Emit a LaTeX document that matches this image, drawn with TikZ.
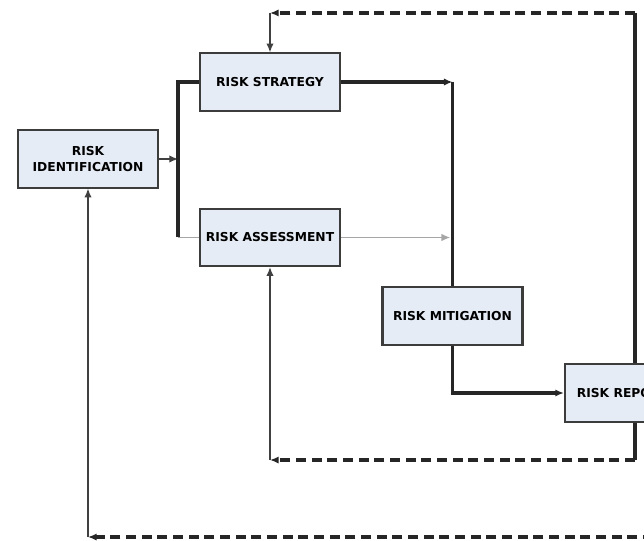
\documentclass[tikz,border=0pt]{standalone}
\usepackage{fontspec}
\setmainfont{DejaVu Sans}
\usetikzlibrary{arrows.meta}

\definecolor{boxfill}{HTML}{E6ECF5}
\definecolor{boxline}{HTML}{3C3C3C}
\tikzset{
  riskbox/.style={draw=boxline,line width=1.8pt,fill=boxfill,
    minimum width=4.2cm,minimum height=1.72cm,inner sep=0pt,align=center,
    font=\bfseries\fontsize{10.5}{13}\selectfont},
  flow/.style={line width=3pt,black!85},
  feedback/.style={line width=3pt,black!85,dash pattern=on 0.3cm off 0.17cm},
  thinflow/.style={line width=1pt,black!75},
  paleflow/.style={line width=1pt,black!35},
  tip/.style={-{Latex[length=0.26cm,width=0.22cm]}}
}

\begin{document}
\begin{tikzpicture}[x=0.03cm,y=-0.03cm]
  \clip (0,0) rectangle (644,541);
  \fill[white] (0,0) rectangle (644,541);

  % boxes
  \node[riskbox] (ident)  at (88,159)    {RISK\\IDENTIFICATION};
  \node[riskbox] (strat)  at (270,82)    {RISK STRATEGY};
  \node[riskbox] (assess) at (270,237.5) {RISK ASSESSMENT};
  \node[riskbox] (mitig)  at (452.5,316) {RISK MITIGATION};
  \node[riskbox] (report) at (635,393)   {RISK REPORTING};

  % helper points
  \coordinate (busT) at (178,82);
  \coordinate (busB) at (178,237.5);
  \coordinate (bus)  at (178,159);
  \coordinate (topY) at (0,13);
  \coordinate (midY) at (0,460);
  \coordinate (lowY) at (0,537);
  \coordinate (offR) at (700,0);

  % forward flow
  \draw[thinflow,tip] (ident.east) -- (bus);
  \draw[flow] (strat.west) -- (busT) -- (busB);        %split bus
  \draw[paleflow] (busB) -- (assess.west);
  \draw[flow,tip] (strat.east) -- (strat.east -| mitig.north);
  \draw[flow] (strat.east -| mitig.north) -- (mitig.north);
  \draw[paleflow,tip] (assess.east) -- ([xshift=-2]assess.east -| mitig.north);
  \draw[flow,tip] (mitig.south) |- (report.west);

  % feedback loops
  \draw[flow] (report.north) -- (report.north |- topY);
  \draw[feedback,tip] (report.north |- topY) -- (strat.north |- topY);
  \draw[thinflow,tip] (strat.north |- topY) -- (strat.north);
  \draw[flow] (report.south) -- (report.south |- midY);
  \draw[feedback,tip] (report.south |- midY) -- (assess.south |- midY);
  \draw[thinflow,tip] (assess.south |- midY) -- (assess.south);
  \draw[feedback,tip] (offR |- lowY) -- (ident.south |- lowY);
  \draw[thinflow,tip] (ident.south |- lowY) -- (ident.south);
\end{tikzpicture}
\end{document}
